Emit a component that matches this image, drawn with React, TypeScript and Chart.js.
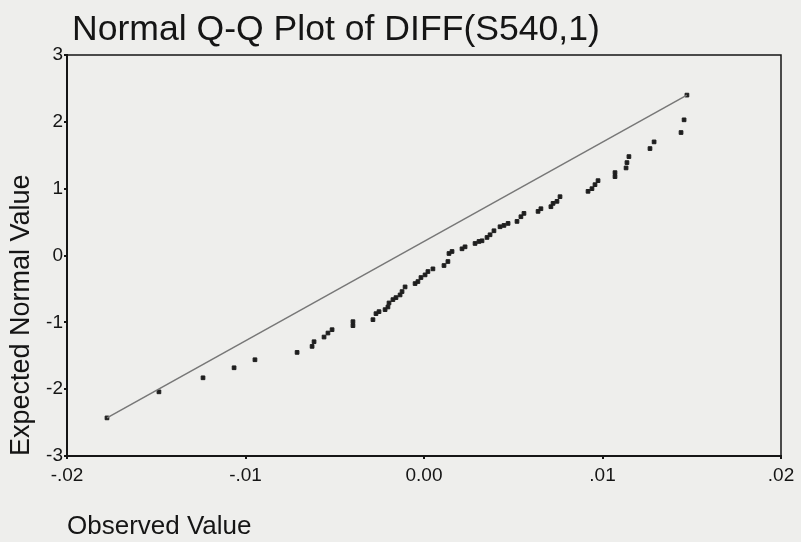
import React, { useEffect, useRef } from "react";
import { Chart, registerables } from "chart.js";

Chart.register(...registerables);

// Observed values (sorted) and their expected normal scores
const observed = [
  -0.01776, -0.01485, -0.01238, -0.01064, -0.00947, -0.00711, -0.00627, -0.00616, -0.0056, -0.00538,
  -0.00515, -0.00398, -0.00398, -0.00286, -0.00269, -0.00252, -0.00218, -0.00202, -0.00196, -0.00174,
  -0.00157, -0.00134, -0.00123, -0.00106, -0.0005, -0.00034, -0.00017, 0.00006, 0.00022, 0.0005,
  0.00112, 0.00134, 0.0014, 0.00157, 0.00213, 0.0023, 0.00286, 0.00308, 0.00325, 0.00353,
  0.0037, 0.00392, 0.00426, 0.00448, 0.00471, 0.00521, 0.00543, 0.0056, 0.00639, 0.00655,
  0.00711, 0.00723, 0.00745, 0.00762, 0.00919, 0.00941, 0.00958, 0.00975, 0.0107, 0.0107,
  0.01132, 0.01137, 0.01148, 0.01266, 0.01289, 0.0144, 0.01457, 0.01473,
];

const expected = [
  -2.43, -2.04, -1.83, -1.68, -1.56, -1.45, -1.36, -1.29, -1.22, -1.16,
  -1.11, -1.05, -0.99, -0.96, -0.87, -0.84, -0.81, -0.77, -0.71, -0.66,
  -0.63, -0.59, -0.54, -0.47, -0.42, -0.39, -0.33, -0.29, -0.24, -0.2,
  -0.15, -0.09, 0.03, 0.06, 0.1, 0.13, 0.18, 0.21, 0.22, 0.27,
  0.31, 0.37, 0.43, 0.45, 0.48, 0.51, 0.58, 0.63, 0.66, 0.7,
  0.73, 0.78, 0.81, 0.88, 0.96, 1.0, 1.06, 1.12, 1.18, 1.24,
  1.31, 1.39, 1.48, 1.6, 1.7, 1.84, 2.03, 2.4,
];

// Reference line end points
const lineObserved = [-0.01776, 0.01473];
const lineExpected = [-2.43, 2.4];

const xTickValues = [-0.02, -0.01, 0, 0.01, 0.02];
const xTickLabels = ["-.02", "-.01", "0.00", ".01", ".02"];
const yTickValues = [-3, -2, -1, 0, 1, 2, 3];
const yTickLabels = ["-3", "-2", "-1", "0", "1", "2", "3"];

const titleText = "Normal Q-Q Plot of DIFF(S540,1)";
const FONT = "'Liberation Sans', Arial, Helvetica, sans-serif";
const PAPER = "#eeeeec";
const INK = "#151515";

const paperPlugin = {
  id: "paper",
  beforeDraw(chart: any) {
    const { ctx, width, height } = chart;
    ctx.save();
    ctx.fillStyle = PAPER;
    ctx.fillRect(0, 0, width, height);
    ctx.restore();
  },
};

const framePlugin = {
  id: "frame",
  afterDraw(chart: any) {
    const { ctx, chartArea } = chart;
    const { left, right, top, bottom } = chartArea;
    ctx.save();
    ctx.strokeStyle = INK;
    ctx.lineWidth = 1.5;
    ctx.beginPath();
    ctx.moveTo(left, top);
    ctx.lineTo(right, top);
    ctx.lineTo(right, bottom);
    ctx.stroke();
    // main title
    ctx.fillStyle = INK;
    ctx.font = `35.6px ${FONT}`;
    ctx.textAlign = "left";
    ctx.textBaseline = "alphabetic";
    ctx.fillText(titleText, 72, 40);
    ctx.restore();
  },
};

export default function App() {
  const canvasRef = useRef<HTMLCanvasElement | null>(null);

  useEffect(() => {
    const canvas = canvasRef.current;
    if (!canvas) return;
    document.body.style.margin = "0";

    const points = observed.map((x, i) => ({ x, y: expected[i] }));
    const line = lineObserved.map((x, i) => ({ x, y: lineExpected[i] }));

    const chart = new Chart(canvas, {
      type: "scatter",
      data: {
        datasets: [
          {
            type: "line",
            data: line,
            borderColor: "#777777",
            borderWidth: 1.5,
            pointRadius: 0,
            fill: false,
          } as any,
          {
            data: points,
            pointStyle: "rect",
            pointRadius: 2.6,
            pointBorderWidth: 1,
            pointBackgroundColor: "#1e1e1e",
            pointBorderColor: "#1e1e1e",
          },
        ],
      },
      options: {
        animation: false,
        responsive: false,
        devicePixelRatio: 1,
        layout: { padding: { left: 0, right: 20, top: 55, bottom: 0 } },
        plugins: {
          legend: { display: false },
          tooltip: { enabled: false },
          title: { display: false },
        },
        scales: {
          x: {
            type: "linear",
            min: -0.02,
            max: 0.02,
            afterBuildTicks: (scale: any) => {
              scale.ticks = xTickValues.map((v) => ({ value: v }));
            },
            afterFit: (scale: any) => {
              scale.height = 86;
            },
            ticks: {
              callback: (_v: any, i: number) => xTickLabels[i],
              color: INK,
              font: { family: FONT, size: 19 },
              padding: 5,
              maxRotation: 0,
              autoSkip: false,
            },
            grid: {
              display: true,
              drawOnChartArea: false,
              drawTicks: true,
              tickLength: 3,
              color: INK,
              lineWidth: 2,
            },
            border: { display: true, color: INK, width: 2 },
            title: {
              display: true,
              text: "Observed Value",
              align: "start",
              color: INK,
              font: { family: FONT, size: 26 },
              padding: { top: 0, bottom: 0 },
            },
          },
          y: {
            type: "linear",
            min: -3,
            max: 3,
            afterBuildTicks: (scale: any) => {
              scale.ticks = yTickValues.map((v) => ({ value: v }));
            },
            afterFit: (scale: any) => {
              scale.width = 67;
            },
            ticks: {
              callback: (_v: any, i: number) => yTickLabels[i],
              color: INK,
              font: { family: FONT, size: 19 },
              padding: 1,
              autoSkip: false,
            },
            grid: {
              display: true,
              drawOnChartArea: false,
              drawTicks: true,
              tickLength: 3,
              color: INK,
              lineWidth: 2,
            },
            border: { display: true, color: INK, width: 2 },
            title: {
              display: true,
              text: "Expected Normal Value",
              align: "start",
              color: INK,
              font: { family: FONT, size: 27 },
              padding: { top: 5, bottom: 0 },
            },
          },
        },
      },
      plugins: [paperPlugin, framePlugin],
    });

    return () => chart.destroy();
  }, []);

  return (
    <div style={{ position: "absolute", left: 0, top: 0, width: 801, height: 542, background: PAPER }}>
      <canvas ref={canvasRef} width={801} height={542} />
    </div>
  );
}
